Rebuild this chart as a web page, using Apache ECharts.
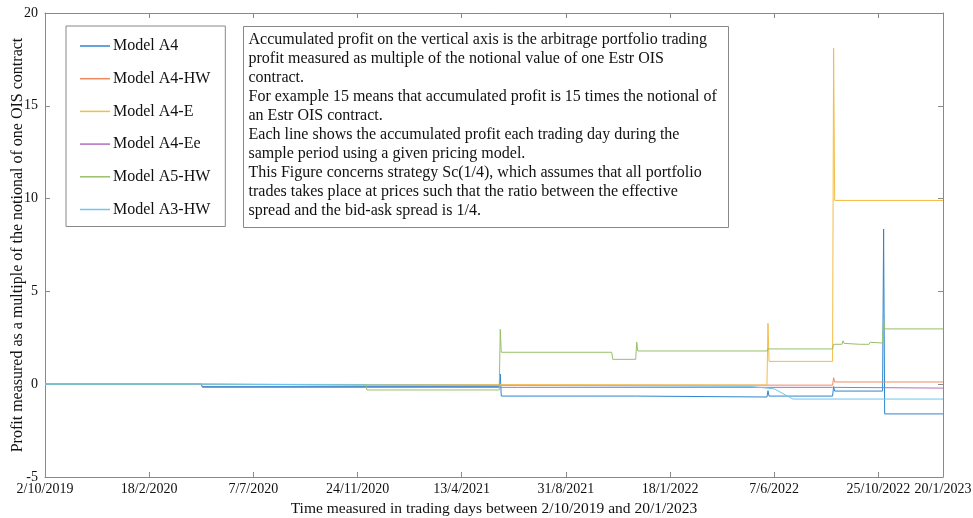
<!DOCTYPE html>
<html>
<head>
<meta charset="utf-8">
<script src="https://cdn.jsdelivr.net/npm/echarts@6/dist/echarts.min.js"></script>
<style>html,body{margin:0;padding:0;background:#fff}#c{width:973px;height:518px}</style>
</head>
<body>
<div id="c"></div>
<script>
// Trading-day index (0 = 2/10/2019, 862 = 20/1/2023) and tick labels
const tickIndex = [0, 100, 200, 300, 400, 500, 600, 700, 800, 862];
const tickLabels = ['2/10/2019', '18/2/2020', '7/7/2020', '24/11/2020', '13/4/2021',
  '31/8/2021', '18/1/2022', '7/6/2022', '25/10/2022', '20/1/2023'];

const seriesNames = ['Model A4', 'Model A4-HW', 'Model A4-E', 'Model A4-Ee', 'Model A5-HW', 'Model A3-HW'];

// [trading day index, accumulated profit]
const modelA4 = [[0, 0], [150, 0], [151, -0.13], [436, -0.13], [437, 0.55], [438, -0.64], [567, -0.64],
  [568, -0.69], [693, -0.69], [694, -0.35], [695, -0.64], [756, -0.64], [757, -0.13], [758, -0.37],
  [804, -0.37], [805, 8.36], [806, -1.6], [862, -1.6]];
const modelA4HW = [[0, 0], [150, 0], [151, -0.05], [308, -0.05], [309, 0.05], [310, -0.05], [756, -0.05],
  [757, 0.35], [758, 0.12], [862, 0.12]];
const modelA4E = [[0, 0], [150, 0], [151, -0.05], [693, -0.05], [694, 3.28], [695, 1.23], [756, 1.23],
  [757, 18.1], [758, 9.9], [862, 9.9]];
const modelA4Ee = [[0, 0], [150, 0], [151, -0.17], [756, -0.17], [757, -0.21], [862, -0.21]];
const modelA5HW = [[0, 0], [150, 0], [151, -0.03], [308, -0.03], [309, -0.31], [436, -0.31], [437, 2.96],
  [438, 1.72], [544, 1.72], [545, 1.34], [567, 1.34], [568, 2.27], [569, 1.79], [693, 1.79], [694, 1.9],
  [756, 1.9], [757, 2.15], [765, 2.15], [766, 2.34], [767, 2.2], [782, 2.15], [791, 2.15], [792, 2.26],
  [793, 2.22], [804, 2.22], [805, 3.5], [806, 2.98], [862, 2.98]];
const modelA3HW = [[0, 0], [150, 0], [151, -0.1], [677, -0.12], [700, -0.25], [718, -0.8], [862, -0.8]];

const allData = [modelA4, modelA4HW, modelA4E, modelA4Ee, modelA5HW, modelA3HW];
const colors = ['#2f86cf', '#ee8a5e', '#f5bd45', '#b070c0', '#98c06a', '#6cc6f0'];

const noteText = [
  'Accumulated profit on the vertical axis is the arbitrage portfolio trading',
  'profit measured as multiple of the notional value of one Estr OIS',
  'contract.',
  'For example 15 means that accumulated profit is 15 times the notional of',
  'an Estr OIS contract.',
  'Each line shows the accumulated profit each trading day during the',
  'sample period using a given pricing model.',
  'This Figure concerns strategy Sc(1/4), which assumes that all portfolio',
  'trades takes place at prices such that the ratio between the effective',
  'spread and the bid-ask spread is 1/4.'
];

const FONT = 'Liberation Serif';
const axisGray = '#8a8a8a';

function xLabel(v) {
  const k = tickIndex.indexOf(Math.round(v));
  return k >= 0 ? tickLabels[k] : '';
}

const frameAxis = {
  axisLine: { show: true, onZero: false, lineStyle: { color: axisGray, width: 1 } },
  axisTick: { show: true, inside: true, length: 5, lineStyle: { color: axisGray } },
  splitLine: { show: false }
};

const chart = echarts.init(document.getElementById('c'), null, { renderer: 'canvas' });
chart.setOption({
  animation: false,
  backgroundColor: '#fff',
  color: colors,
  grid: { left: 45, right: 30, top: 13, bottom: 41, containLabel: false, outerBoundsMode: 'none' },
  legend: {
    orient: 'vertical',
    left: 66,
    top: 26,
    data: seriesNames,
    icon: 'rect',
    itemWidth: 30,
    itemHeight: 1.5,
    itemGap: 16.7,
    padding: [12, 15, 9, 14],
    borderColor: '#888',
    borderWidth: 1,
    backgroundColor: '#fff',
    textStyle: { fontFamily: FONT, fontSize: 16, color: '#111', padding: [0, 0, 0, -2] },
    z: 10
  },
  xAxis: [Object.assign({}, frameAxis, {
    type: 'value', min: 0, max: 862, interval: 100,
    name: 'Time measured in trading days between 2/10/2019 and 20/1/2023',
    nameLocation: 'middle', nameGap: 23,
    nameTextStyle: { fontFamily: FONT, fontSize: 15.5, color: '#111' },
    axisLabel: { fontFamily: FONT, fontSize: 14, color: '#111', margin: 5, formatter: xLabel,
      showMinLabel: true, showMaxLabel: true }
  }), Object.assign({}, frameAxis, {
    type: 'value', min: 0, max: 862, interval: 100, position: 'top',
    axisLabel: { show: false }
  })],
  yAxis: [Object.assign({}, frameAxis, {
    type: 'value', min: -5, max: 20, interval: 5,
    name: 'Profit measured as a multiple of the notional of one OIS contract',
    nameLocation: 'middle', nameGap: 19, nameRotate: 90, nameMoveOverlap: false,
    nameTextStyle: { fontFamily: FONT, fontSize: 16, color: '#111' },
    axisLabel: { fontFamily: FONT, fontSize: 14, color: '#111', margin: 7 }
  }), Object.assign({}, frameAxis, {
    type: 'value', min: -5, max: 20, interval: 5, position: 'right',
    axisLabel: { show: false }
  })],
  graphic: [{
    type: 'group', left: 243, top: 26, z: 20,
    children: [{
      type: 'rect',
      shape: { x: 0, y: 0, width: 485, height: 201 },
      style: { fill: '#fff', stroke: '#888', lineWidth: 1 }
    }, {
      type: 'text', x: 5, y: 4,
      style: {
        text: noteText.join('\n'),
        font: '16px "Liberation Serif"',
        lineHeight: 19,
        fill: '#111'
      }
    }]
  }],
  series: seriesNames.map((name, i) => ({
    name: name,
    type: 'line',
    data: allData[i],
    xAxisIndex: 0,
    yAxisIndex: 0,
    showSymbol: false,
    symbol: 'none',
    lineStyle: { width: 1, color: colors[i] },
    itemStyle: { color: colors[i] },
    emphasis: { disabled: true }
  }))
});
</script>
</body>
</html>
